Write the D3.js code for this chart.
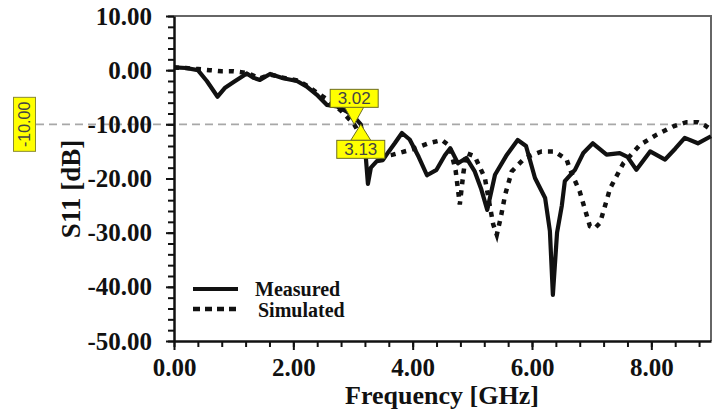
<!DOCTYPE html>
<html>
<head>
<meta charset="utf-8">
<script src="https://cdn.jsdelivr.net/npm/d3@7"></script>
<style>
    body { margin: 0; background: #fff; }
    svg { display: block; }
</style>
</head>
<body>
<div id="visualization"></div>
<script>
// measured S11 curve (GHz / dB)
const measuredFreq = [0, 0.2, 0.4, 0.55, 0.73, 0.85, 1.0, 1.22, 1.33, 1.44, 1.61, 1.83, 2.06, 2.22, 2.39, 2.56,
    2.73, 2.89, 3.02, 3.13, 3.2, 3.25, 3.3, 3.4, 3.5, 3.6, 3.7, 3.82, 3.95, 4.1, 4.24, 4.4, 4.54, 4.63, 4.76,
    4.9, 5.04, 5.15, 5.25, 5.38, 5.58, 5.76, 5.9, 6.05, 6.22, 6.3, 6.35, 6.42, 6.5, 6.55, 6.72, 6.86, 7.02,
    7.25, 7.47, 7.6, 7.75, 7.98, 8.23, 8.4, 8.56, 8.78, 9.0];
const measuredS11 = [0.5, 0.4, 0.0, -2.0, -4.9, -3.3, -2.2, -0.6, -1.4, -1.8, -0.7, -1.5, -2.0, -3.0, -4.5, -6.4,
    -6.7, -7.6, -8.6, -10.0, -14.0, -21.0, -18.0, -16.8, -16.6, -15.0, -13.5, -11.6, -12.8, -16.0, -19.4, -18.4, -15.7, -14.4, -17.2,
    -16.2, -18.7, -22.0, -25.8, -19.3, -15.6, -12.9, -14.0, -19.9, -23.6, -29.7, -41.5, -30.0, -25.0, -20.5, -18.4, -15.3, -13.5,
    -15.6, -15.3, -16.0, -18.4, -15.0, -16.5, -14.5, -12.5, -13.5, -12.2];

// simulated S11 curve (GHz / dB)
const simulatedFreq = [0, 0.2, 0.4, 0.6, 0.8, 1.0, 1.22, 1.44, 1.61, 1.83, 2.06, 2.22, 2.4, 2.6, 2.8, 3.02,
    3.2, 3.4, 3.67, 4.0, 4.26, 4.49, 4.62, 4.72, 4.79, 4.85, 4.9, 5.04, 5.21, 5.35, 5.41, 5.48, 5.55, 5.66,
    5.88, 6.16, 6.38, 6.58, 6.64, 6.8, 6.97, 7.05, 7.14, 7.31, 7.53, 7.81, 8.09, 8.36, 8.59, 8.78, 8.9, 9.0];
const simulatedS11 = [0.5, 0.4, 0.2, 0.0, -0.2, -0.2, -0.5, -1.5, -0.8, -1.4, -1.9, -2.8, -4.2, -5.6, -7.5, -10.0,
    -13.5, -16.2, -15.6, -14.6, -13.5, -12.9, -14.0, -18.5, -24.8, -19.0, -15.3, -15.9, -19.9, -28.5, -30.4, -27.0, -23.0, -18.7,
    -16.2, -15.0, -15.0, -16.5, -18.4, -22.4, -28.8, -29.2, -28.2, -21.8, -17.2, -13.8, -11.9, -10.4, -9.6, -9.6, -10.2, -11.0];

// axis ticks
const xMajorTicks = [0, 2, 4, 6, 8];
const xMinorTicks = d3.range(0, 9.01, 0.4);
const yMajorTicks = [10, 0, -10, -20, -30, -40, -50];
const yMinorTicks = d3.range(-50, 10.01, 2);

// markers
const threshold = -10;
const markerFreqs = [3.02, 3.13];
const markerLabels = ["3.02", "3.13"];

const legendNames = ["Measured", "Simulated"];

const width = 720, height = 412;
const margin = { top: 16, right: 9, bottom: 71, left: 174 };
const plotW = width - margin.left - margin.right;
const plotH = height - margin.top - margin.bottom;

const serif = "'Liberation Serif', 'Times New Roman', serif";
const sans = "'Liberation Sans', Arial, sans-serif";

// plain hyphen instead of unicode minus
const fmt = d => d.toFixed(2);

const svg = d3.select("#visualization")
    .append("svg")
        .attr("width", width)
        .attr("height", height);

const x = d3.scaleLinear().domain([0, 9]).range([margin.left, margin.left + plotW]);
const y = d3.scaleLinear().domain([-50, 10]).range([margin.top + plotH, margin.top]);

//frame (top and right)
svg.append("path")
    .attr("d", `M${x(0)},${y(10)}H${x(9)}V${y(-50)}`)
    .attr("fill", "none")
    .attr("stroke", "#666")
    .attr("stroke-width", 2);

//threshold line at -10 dB
svg.append("line")
    .attr("x1", 36).attr("x2", x(9))
    .attr("y1", y(threshold)).attr("y2", y(threshold))
    .attr("stroke", "#a8a8a8")
    .attr("stroke-width", 1.6)
    .attr("stroke-dasharray", "8,5");

//minor ticks
svg.append("g")
    .attr("transform", `translate(0,${y(-50)})`)
    .call(d3.axisBottom(x).tickValues(xMinorTicks).tickSize(6).tickFormat(""))
    .call(g => g.select(".domain").remove())
    .selectAll("line").attr("stroke", "#111").attr("stroke-width", 2);

svg.append("g")
    .attr("transform", `translate(${x(0)},0)`)
    .call(d3.axisLeft(y).tickValues(yMinorTicks).tickSize(6).tickFormat(""))
    .call(g => g.select(".domain").remove())
    .selectAll("line").attr("stroke", "#111").attr("stroke-width", 2);

//major ticks and labels
const xAxis = svg.append("g")
    .attr("transform", `translate(0,${y(-50)})`)
    .call(d3.axisBottom(x).tickValues(xMajorTicks).tickSize(9).tickSizeOuter(0).tickPadding(21)
        .tickFormat(fmt));

const yAxis = svg.append("g")
    .attr("transform", `translate(${x(0)},0)`)
    .call(d3.axisLeft(y).tickValues(yMajorTicks).tickSize(8).tickSizeOuter(0).tickPadding(14)
        .tickFormat(fmt));

[xAxis, yAxis].forEach(ax => {
    ax.select(".domain").attr("stroke", "#111").attr("stroke-width", 2.5);
    ax.selectAll("line").attr("stroke", "#111").attr("stroke-width", 2);
    ax.selectAll("text")
        .attr("fill", "#111")
        .style("font-family", serif)
        .style("font-weight", "bold")
        .style("font-size", "25px");
});
xAxis.selectAll("text").attr("dy", "0.2em");

//axis titles
svg.append("text")
    .attr("x", 442).attr("y", 404)
    .attr("text-anchor", "middle")
    .style("font-family", serif).style("font-weight", "bold").style("font-size", "26px")
    .attr("fill", "#111")
    .text("Frequency [GHz]");

svg.append("text")
    .attr("transform", "translate(80,189) rotate(-90)")
    .attr("text-anchor", "middle")
    .style("font-family", serif).style("font-weight", "bold").style("font-size", "27px")
    .attr("fill", "#111")
    .text("S11 [dB]");

//curves
const line = d3.line().x(d => x(d[0])).y(d => y(d[1]));

const simulated = d3.zip(simulatedFreq, simulatedS11);
const measured = d3.zip(measuredFreq, measuredS11);

svg.append("path")
    .datum(simulated)
    .attr("d", line)
    .attr("fill", "none")
    .attr("stroke", "#111")
    .attr("stroke-width", 4.5)
    .attr("stroke-dasharray", "5,6");

svg.append("path")
    .datum(measured)
    .attr("d", line)
    .attr("fill", "none")
    .attr("stroke", "#111")
    .attr("stroke-width", 4.2)
    .attr("stroke-linejoin", "round");

//threshold tag on the left
const tag = svg.append("g").attr("transform", `translate(24.5,${y(threshold)})`);
tag.append("rect")
    .attr("x", -11).attr("y", -27).attr("width", 22).attr("height", 54)
    .attr("fill", "#ffff00").attr("stroke", "#8a8a30").attr("stroke-width", 1);
tag.append("text")
    .attr("transform", "rotate(-90)")
    .attr("text-anchor", "middle").attr("dy", "0.36em")
    .style("font-family", sans).style("font-size", "16px")
    .attr("fill", "#444")
    .text(fmt(threshold));

//frequency markers
markerFreqs.forEach((f, i) => {
    const tx = x(f), ty = y(threshold);
    const up = i === 0;
    const boxY = up ? ty - 35 : ty + 16;
    const baseY = up ? ty - 18 : ty + 16;
    const g = svg.append("g");
    g.append("path")
        .attr("d", `M${tx - 10},${baseY}L${tx + 10},${baseY}L${tx},${ty}Z`)
        .attr("fill", "#ffff00").attr("stroke", "#6e6e20").attr("stroke-width", 1);
    g.append("rect")
        .attr("x", tx - 24).attr("y", boxY).attr("width", 48).attr("height", 18)
        .attr("fill", "#ffff00").attr("stroke", "#6e6e20").attr("stroke-width", 1);
    g.append("text")
        .attr("x", tx).attr("y", boxY + 9).attr("dy", "0.36em")
        .attr("text-anchor", "middle")
        .style("font-family", sans).style("font-size", "17px")
        .attr("fill", "#444")
        .text(markerLabels[i]);
});

//legend
const legend = svg.append("g").attr("transform", "translate(193,289)");
legendNames.forEach((name, i) => {
    legend.append("line")
        .attr("x1", 0).attr("x2", 45)
        .attr("y1", i * 20).attr("y2", i * 20)
        .attr("stroke", "#111")
        .attr("stroke-width", i === 0 ? 4 : 4.5)
        .attr("stroke-dasharray", i === 0 ? null : "7,5");
    legend.append("text")
        .attr("x", i === 0 ? 62 : 65).attr("y", i * 21 + 7)
        .style("font-family", serif).style("font-weight", "bold").style("font-size", "20px")
        .attr("fill", "#111")
        .text(name);
});
</script>
</body>
</html>
